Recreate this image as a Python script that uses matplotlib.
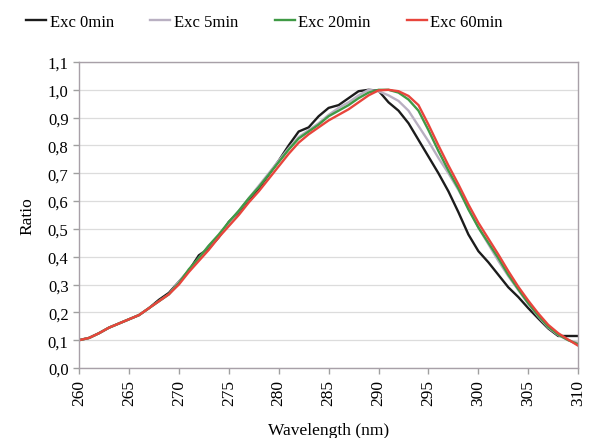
import numpy as np
import matplotlib.pyplot as plt
from matplotlib.ticker import FuncFormatter, MultipleLocator

plt.rcParams['font.family'] = ['Liberation Serif', 'DejaVu Serif']

wavelength = list(range(260, 311))

exc_0min = [0.100, 0.108, 0.125, 0.145, 0.160, 0.175, 0.190, 0.215, 0.245, 0.270,
            0.310, 0.350, 0.405, 0.430, 0.470, 0.525, 0.560, 0.605, 0.645, 0.695,
            0.745, 0.800, 0.850, 0.865, 0.905, 0.935, 0.945, 0.970, 0.995, 1.000,
            0.997, 0.955, 0.925, 0.880, 0.820, 0.760, 0.700, 0.635, 0.560, 0.480,
            0.420, 0.380, 0.335, 0.290, 0.255, 0.215, 0.178, 0.142, 0.115, 0.115,
            0.115]

exc_5min = [0.100, 0.108, 0.125, 0.145, 0.160, 0.175, 0.190, 0.215, 0.240, 0.265,
            0.310, 0.350, 0.395, 0.440, 0.475, 0.520, 0.565, 0.610, 0.655, 0.700,
            0.745, 0.790, 0.830, 0.855, 0.880, 0.910, 0.935, 0.955, 0.980, 1.000,
            0.995, 0.980, 0.960, 0.925, 0.870, 0.815, 0.755, 0.700, 0.640, 0.575,
            0.505, 0.445, 0.385, 0.330, 0.280, 0.230, 0.185, 0.145, 0.118, 0.100,
            0.090]

exc_20min = [0.100, 0.108, 0.125, 0.145, 0.160, 0.175, 0.190, 0.215, 0.240, 0.265,
             0.305, 0.355, 0.395, 0.440, 0.480, 0.525, 0.565, 0.610, 0.650, 0.695,
             0.740, 0.785, 0.825, 0.850, 0.875, 0.905, 0.925, 0.945, 0.970, 0.990,
             1.000, 1.000, 0.990, 0.965, 0.925, 0.855, 0.780, 0.710, 0.645, 0.570,
             0.505, 0.450, 0.395, 0.335, 0.283, 0.233, 0.188, 0.148, 0.120, 0.100,
             0.085]

exc_60min = [0.100, 0.108, 0.125, 0.145, 0.160, 0.175, 0.190, 0.215, 0.240, 0.265,
             0.300, 0.345, 0.385, 0.425, 0.470, 0.510, 0.550, 0.595, 0.635, 0.680,
             0.725, 0.770, 0.810, 0.840, 0.865, 0.890, 0.910, 0.930, 0.955, 0.980,
             0.998, 1.000, 0.995, 0.978, 0.945, 0.875, 0.800, 0.728, 0.660, 0.588,
             0.522, 0.465, 0.408, 0.348, 0.292, 0.242, 0.196, 0.155, 0.125, 0.102,
             0.080]

series = [("Exc 0min", exc_0min, "#1c1c1c"),
          ("Exc 5min", exc_5min, "#b9b0c2"),
          ("Exc 20min", exc_20min, "#3f9a45"),
          ("Exc 60min", exc_60min, "#e8453c")]

fig = plt.figure(figsize=(6.08, 4.39), dpi=100)
ax = fig.add_axes([0.130, 0.1595, 0.821, 0.697])

for name, vals, col in series:
    ax.plot(wavelength, vals, color=col, lw=1.7, label=name)

ax.set_xlim(260, 310)
ax.set_ylim(0, 1.1)
ax.xaxis.set_major_locator(MultipleLocator(5))
ax.yaxis.set_major_locator(MultipleLocator(0.1))
ax.yaxis.set_major_formatter(FuncFormatter(lambda v, p: f"{v:.1f}".replace('.', ',')))
ax.tick_params(axis='x', labelrotation=90, labelsize=12.5, pad=4)
ax.tick_params(axis='y', labelsize=12)
ax.tick_params(color='#a0a0a0', length=4, width=1)
ax.grid(axis='y', color='#dcdcdc', lw=0.9)
ax.set_axisbelow(True)
for s in ax.spines.values():
    s.set_color('#a8a0a8')
    s.set_linewidth(1.0)

ax.set_xlabel("Wavelength (nm)", fontsize=12.5, labelpad=12)
ax.set_ylabel("Ratio", fontsize=12.5, labelpad=9)

fig.legend(loc='upper center', bbox_to_anchor=(0.435, 1.0), ncol=4, frameon=False,
           fontsize=12, handlelength=1.2, handletextpad=0.2, columnspacing=2.2)

fig.savefig("out.png", dpi=100)
